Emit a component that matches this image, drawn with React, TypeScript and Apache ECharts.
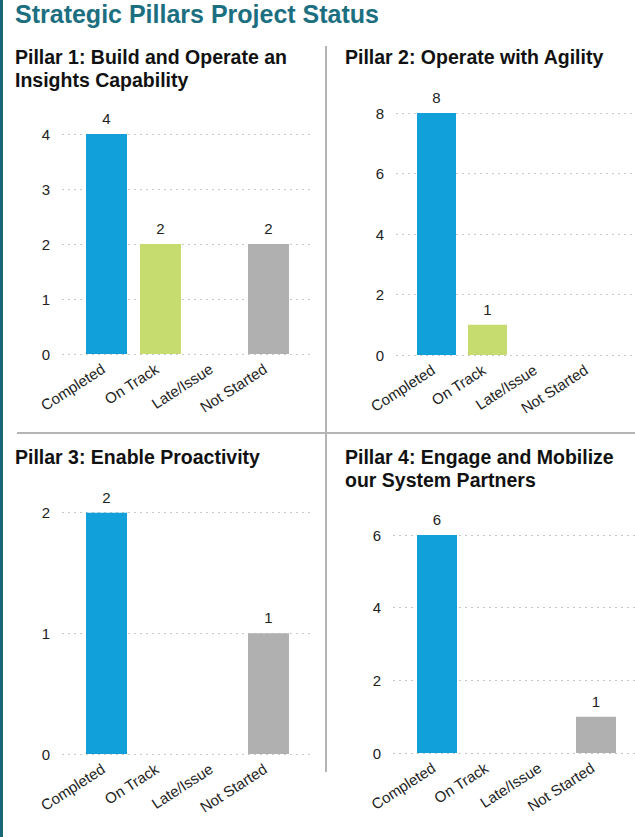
import React, { useEffect, useRef } from "react";
import * as echarts from "echarts";

const categories = ["Completed", "On Track", "Late/Issue", "Not Started"];
const pillar1 = [4, 2, 0, 2];
const pillar2 = [8, 1, 0, 0];
const pillar3 = [2, 0, 0, 1];
const pillar4 = [6, 0, 0, 1];
const categoryColors = ["#12A0DA", "#C6DC6E", "#E8A33D", "#B0B0B0"];

const pageTitle = "Strategic Pillars Project Status";
const panelTitles = [
  ["Pillar 1: Build and Operate an", "Insights Capability"],
  ["Pillar 2: Operate with Agility"],
  ["Pillar 3: Enable Proactivity"],
  ["Pillar 4: Engage and Mobilize", "our System Partners"],
];

const FONT = "'Liberation Sans', Arial, Helvetica, sans-serif";
const TEXT = "#222";

type Panel = {
  data: number[];
  max: number;
  interval: number;
  gridLeft: number;
  gridWidth: number;
  barLeft: number;
  barWidthArea: number;
  top: number;
  height: number;
  barWidth: number;
};

const panels: Panel[] = [
  { data: pillar1, max: 4, interval: 1, gridLeft: 62, gridWidth: 251, barLeft: 79.5, barWidthArea: 216, top: 134, height: 220, barWidth: 41 },
  { data: pillar2, max: 8, interval: 2, gridLeft: 396, gridWidth: 239, barLeft: 411, barWidthArea: 204, top: 113, height: 242, barWidth: 39 },
  { data: pillar3, max: 2, interval: 1, gridLeft: 62, gridWidth: 251, barLeft: 79.5, barWidthArea: 216, top: 512.7, height: 241.3, barWidth: 41 },
  { data: pillar4, max: 6, interval: 2, gridLeft: 393, gridWidth: 242, barLeft: 410.5, barWidthArea: 212, top: 535, height: 218, barWidth: 40 },
];

const titlePos = [
  { x: 15, y: 56.5 },
  { x: 345, y: 56.5 },
  { x: 15, y: 457 },
  { x: 345, y: 457 },
];

export default function App() {
  const ref = useRef<HTMLDivElement>(null);
  useEffect(() => {
    if (!ref.current) return;
    const chart = echarts.init(ref.current, undefined, { renderer: "svg" });
    const grid: any[] = [];
    const xAxis: any[] = [];
    const yAxis: any[] = [];
    const series: any[] = [];
    panels.forEach((p, i) => {
      grid.push({ left: p.gridLeft, top: p.top, width: p.gridWidth, height: p.height, containLabel: false });
      xAxis.push({ type: "value", gridIndex: 2 * i, min: 0, max: 1, show: false });
      yAxis.push({
        type: "value",
        gridIndex: 2 * i,
        min: 0,
        max: p.max,
        interval: p.interval,
        axisLine: { show: false },
        axisTick: { show: false },
        axisLabel: { margin: 12, fontSize: 15, color: TEXT, fontFamily: FONT },
        splitLine: { show: true, lineStyle: { color: "#c8c8c8", width: 1, type: [2, 4] } },
      });
      grid.push({ left: p.barLeft, top: p.top, width: p.barWidthArea, height: p.height, containLabel: false });
      xAxis.push({
        type: "category",
        gridIndex: 2 * i + 1,
        data: categories,
        axisLine: { show: false },
        axisTick: { show: false },
        axisLabel: {
          interval: 0,
          rotate: 33,
          margin: 11,
          padding: [0, 4, 0, 0],
          fontSize: 15,
          color: TEXT,
          fontFamily: FONT,
        },
      });
      yAxis.push({ type: "value", gridIndex: 2 * i + 1, min: 0, max: p.max, interval: p.interval, show: false });
      series.push({
        type: "bar",
        xAxisIndex: 2 * i + 1,
        yAxisIndex: 2 * i + 1,
        barWidth: p.barWidth,
        data: p.data.map((v, k) => ({ value: v, itemStyle: { color: categoryColors[k] } })),
        label: {
          show: true,
          position: "top",
          distance: 8,
          fontSize: 15,
          color: TEXT,
          fontFamily: FONT,
          formatter: (d: any) => (d.value === 0 ? "" : String(d.value)),
        },
      });
    });

    const graphic: any[] = [
      { type: "rect", shape: { x: 0, y: 0, width: 3, height: 837 }, style: { fill: "#176778" } },
      {
        type: "text",
        x: 15,
        y: 14,
        style: { text: pageTitle, fill: "#1b6f80", font: `bold 25px ${FONT}`, verticalAlign: "middle" },
      },
      { type: "line", shape: { x1: 326, y1: 46, x2: 326, y2: 772 }, style: { stroke: "#b4b4b4", lineWidth: 2 } },
      { type: "line", shape: { x1: 17, y1: 433, x2: 635, y2: 433 }, style: { stroke: "#b4b4b4", lineWidth: 2 } },
    ];
    panelTitles.forEach((lines, i) => {
      lines.forEach((t, j) => {
        graphic.push({
          type: "text",
          x: titlePos[i].x,
          y: titlePos[i].y + j * 23,
          style: { text: t, fill: "#111", font: `bold 19.5px ${FONT}`, verticalAlign: "middle" },
        });
      });
    });

    chart.setOption({
      animation: false,
      backgroundColor: "#ffffff",
      grid,
      xAxis,
      yAxis,
      series,
      graphic,
    });
    return () => chart.dispose();
  }, []);
  return <div ref={ref} style={{ position: "absolute", left: 0, top: 0, width: 635, height: 837 }} />;
}
